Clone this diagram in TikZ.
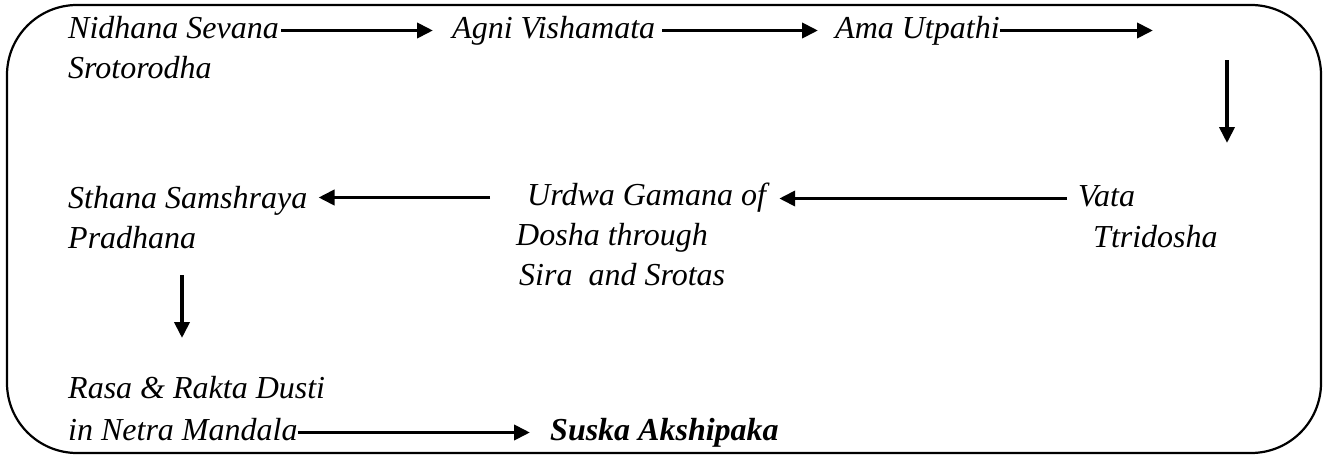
\documentclass[tikz,border=0pt]{standalone}
\usepackage{fontspec}
\setmainfont{Liberation Serif}
\usetikzlibrary{arrows.meta,calc}

\begin{document}
\begin{tikzpicture}[
        x=1pt, y=-1pt,
        font=\fontsize{32}{40}\selectfont\itshape,
        txt/.style={anchor=base west, inner sep=0pt, text height=22pt, text depth=7pt},
        flow/.style={-{Triangle[length=16pt,width=15pt]}, line width=3.8pt},
        frame/.style={draw, line width=2.2pt, rounded corners=70pt}
    ]
        \useasboundingbox (0,0) rectangle (1327,455);
        \draw[frame] (7,5) rectangle (1321,453);

        % first row
        \node[txt] (nid) at (68,38) {Nidhana Sevana};
        \node[txt] (sro) at (68,78) {Srotorodha};
        \node[txt] (agni) at (452,38) {Agni Vishamata};
        \node[txt] (ama) at (835,38) {Ama Utpathi};
        \coordinate (amaend) at (1153,30);
        \coordinate (downa) at (1227,60);
        \coordinate (downb) at (1227,143);

        % second row
        \node[txt] (sth) at (68,208) {Sthana Samshraya};
        \node[txt] (pra) at (68,248) {Pradhana};
        \node[txt] (urd) at (527,205) {Urdwa Gamana of};
        \node[txt] (dos) at (516,245) {Dosha through};
        \node[txt] (sir) at (519,285) {Sira\ \ and Srotas};
        \node[txt] (vata) at (1078,206) {Vata};
        \node[txt] (ttr) at (1093,247) {Ttridosha};
        \coordinate (lefta) at (182,275);
        \coordinate (leftb) at (182,338);

        % last row
        \node[txt] (rasa) at (68,398) {Rasa \& Rakta Dusti};
        \node[txt] (net) at (68,440) {in Netra Mandala};
        \node[txt, font=\fontsize{32}{40}\selectfont\bfseries\itshape] (susk) at (550,440) {Suska Akshipaka};

        \draw[flow, shorten <=2pt, shorten >=19pt] (nid.east) -- (agni.west);
        \draw[flow, shorten <=7pt, shorten >=17pt] (agni.east) -- (ama.west);
        \draw[flow] (ama.east) -- (ama.east -| amaend);
        \draw[flow] (downa) -- (downb);
        \draw[flow, shorten <=11pt, shorten >=13pt] (vata.west) -- (vata.west -| urd.east);
        \draw[flow, shorten <=37pt, shorten >=11pt] (urd.west) -- (urd.west -| sth.east);
        \draw[flow] (lefta) -- (leftb);
        \draw[flow, shorten >=20pt] (net.east) -- (susk.west);
    \end{tikzpicture}
\end{document}
